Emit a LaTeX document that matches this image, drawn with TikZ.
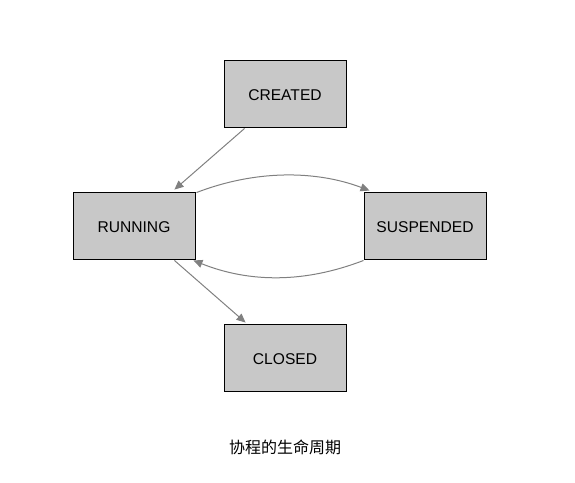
\documentclass[tikz,border=0pt]{standalone}
\usepackage{fontspec}
\setmainfont{Liberation Sans}
\newfontfamily\cjk{Noto Sans CJK SC}
\usetikzlibrary{arrows.meta,calc}
\definecolor{boxfill}{HTML}{C8C8C8}
\definecolor{edgegray}{HTML}{808080}
\tikzset{
  statebox/.style={draw=black, fill=boxfill, line width=0.9pt, minimum width=122pt, minimum height=67pt, inner sep=0pt, text height=13pt, text depth=0pt, font=\fontsize{15.6}{18}\selectfont},
  conn/.style={draw=edgegray, line width=1pt, -{Triangle[length=9pt,width=8pt]}}
}
\begin{document}
\begin{tikzpicture}[x=1pt,y=-1pt]
\useasboundingbox (0,0) rectangle (575,482);
\node[statebox] (created) at (285,93.5) {CREATED};
\node[statebox] (running) at (134,225.5) {RUNNING};
\node[statebox] (suspended) at (425,225.5) {SUSPENDED};
\node[statebox] (closed) at (285,357.5) {CLOSED};
\node[font=\cjk\fontsize{16}{19}\selectfont] (caption) at (285,447.5) {协程的生命周期};
\coordinate (c1) at ($(created.south west)+(21,1)$);
\coordinate (r1) at ($(running.north east)+(-21,-2)$);
\draw[conn] (c1) -- (r1);
\coordinate (r2) at ($(running.north east)+(1,1)$);
\coordinate (s1) at ($(suspended.north west)+(6,-1)$);
\draw[conn] (r2) .. controls (255,170) and (315,170) .. (s1);
\coordinate (s2) at ($(suspended.south west)+(0,1)$);
\coordinate (r3) at ($(running.south east)+(-2,1)$);
\draw[conn] (s2) .. controls (305,283) and (250,283) .. (r3);
\coordinate (r4) at ($(running.south east)+(-21,1)$);
\coordinate (cl1) at ($(closed.north west)+(22,-1)$);
\draw[conn] (r4) -- (cl1);
\end{tikzpicture}
\end{document}
